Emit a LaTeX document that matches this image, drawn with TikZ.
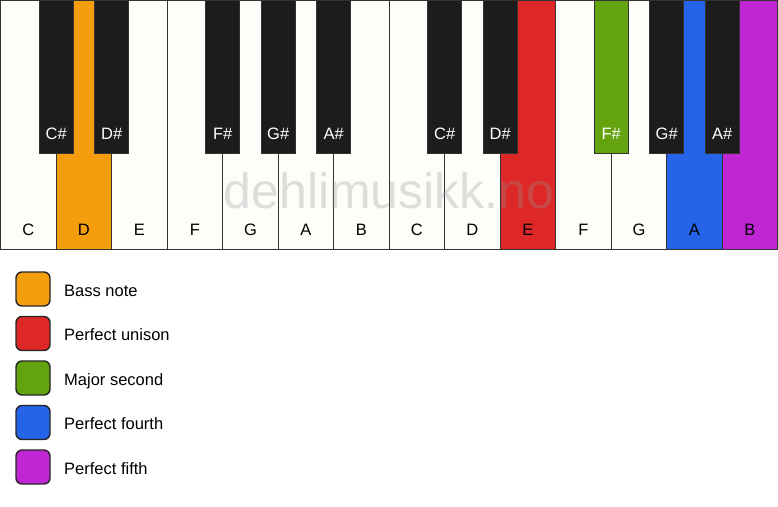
\documentclass[tikz,border=0pt]{standalone}
\usepackage{fontspec}
\setmainfont{Liberation Sans}
\definecolor{keyline}{HTML}{333333}
\definecolor{ivory}{HTML}{FFFDFA}
\definecolor{ebony}{HTML}{1C1C1C}
\definecolor{cbass}{HTML}{F49E0E}
\definecolor{cunison}{HTML}{DE2727}
\definecolor{csecond}{HTML}{62A30E}
\definecolor{cfourth}{HTML}{2563E8}
\definecolor{cfifth}{HTML}{C026D3}
\definecolor{wmark}{HTML}{969696}
\begin{document}
\begin{tikzpicture}[x=1pt,y=-1pt,
  whitekey/.style={draw=keyline,line width=1.4pt,fill=ivory,anchor=north west,
    minimum width=55.5pt,minimum height=249pt,inner sep=0pt,outer sep=0pt},
  blackkey/.style={draw=keyline,line width=1.2pt,fill=ebony,anchor=north,
    minimum width=34pt,minimum height=153pt,inner sep=0pt,outer sep=0pt},
  wlabel/.style={font=\fontsize{16.5}{16.5}\selectfont,text=black,anchor=base},
  blabel/.style={font=\fontsize{16.5}{16.5}\selectfont,text=white,anchor=base},
  swatch/.style={draw=black!85,line width=1.4pt,rounded corners=6pt,
    minimum width=34pt,minimum height=34pt,inner sep=0pt},
  legtext/.style={font=\fontsize{16.5}{16.5}\selectfont,anchor=base west,inner sep=0pt},
  wmarktext/.style={font=\fontsize{50}{50}\selectfont,text=wmark,opacity=0.3,anchor=base}
]
\useasboundingbox (0,0) rectangle (778,506);
\fill[white] (0,0) rectangle (778,506);
% white keys
\foreach \i/\n/\c/\t in {0/C/ivory/black,1/D/cbass/black,2/E/ivory/black,3/F/ivory/black,
  4/G/ivory/black,5/A/ivory/black,6/B/ivory/black,7/C/ivory/black,8/D/ivory/black,
  9/E/cunison/black,10/F/ivory/black,11/G/ivory/black,12/A/cfourth/black,13/B/cfifth/black}{
  \node[whitekey,fill=\c] (w\i) at ({0.7+\i*55.5},0.7) {};
  \node[wlabel,text=\t] (wl\i) at ([yshift=14pt]w\i.south) {\n};
}
% watermark
\node[wmarktext] (wm) at (389,208) {dehlimusikk.no};
% black keys
\foreach \i/\n/\c in {0/C\#/ebony,1/D\#/ebony,3/F\#/ebony,4/G\#/ebony,5/A\#/ebony,
  7/C\#/ebony,8/D\#/ebony,10/F\#/csecond,11/G\#/ebony,12/A\#/ebony}{
  \node[blackkey,fill=\c] (b\i) at (w\i.north east) {};
  \node[blabel] (bl\i) at ([yshift=14pt]b\i.south) {\n};
}
% legend
\foreach \k/\c/\t [count=\j from 0] in {a/cbass/Bass note,b/cunison/Perfect unison,
  c/csecond/Major second,d/cfourth/Perfect fourth,e/cfifth/Perfect fifth}{
  \node[swatch,fill=\c] (s\k) at (33,{289+\j*44.5}) {};
  \node[legtext] (t\k) at (64,{296+\j*44.5}) {\t};
}
\end{tikzpicture}
\end{document}
